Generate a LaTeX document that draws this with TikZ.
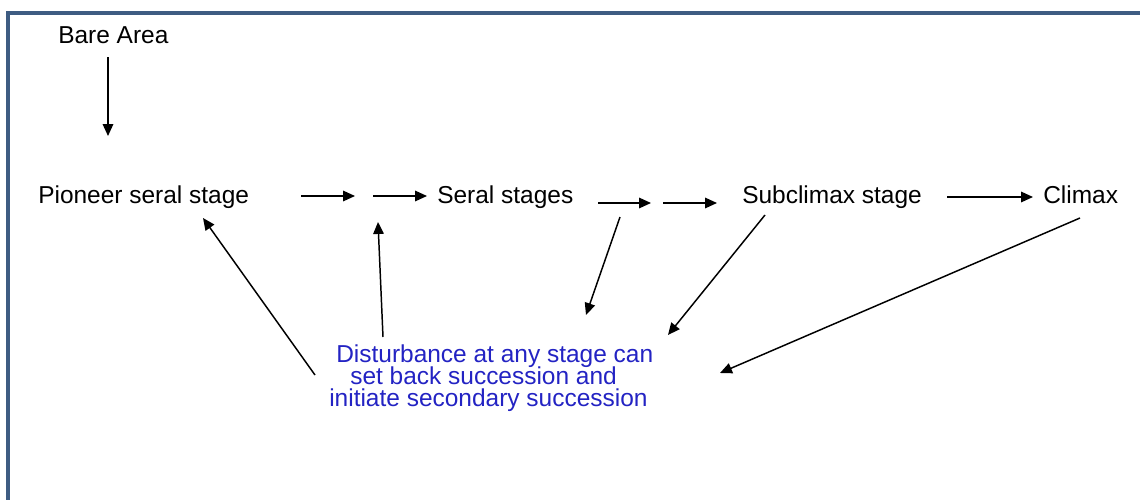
\documentclass[tikz,border=0pt]{standalone}
\usepackage{fontspec}
\setmainfont{Liberation Sans}
\usetikzlibrary{arrows.meta}
\definecolor{framecol}{RGB}{62, 92, 130}
\definecolor{disturbblue}{RGB}{35, 35, 195}
\begin{document}
\begin{tikzpicture}[
    x=0.025cm, y=-0.025cm,
    every node/.style={inner sep=0pt, font=\fontsize{17.4}{16}\selectfont},
    stage/.style={anchor=base west},
    note/.style={anchor=base west, text=disturbblue},
    arrow/.style={-{Triangle[length=8.5pt, width=7.5pt]}, line width=1.05pt},
    frame/.style={draw=framecol, line width=2.2pt}
  ]
    \useasboundingbox (0,0) rectangle (1140,500);
    \draw[frame] (8,502) -- (8,13) -- (1142,13);

    \node[stage] (bare) at (58,43) {Bare Area};
    \node[stage] (pioneer) at (38,203) {Pioneer seral stage};
    \node[stage] (seral) at (437,203) {Seral stages};
    \node[stage] (subclimax) at (742,203) {Subclimax stage};
    \node[stage] (climax) at (1043,203) {Climax};
    \node[note] (dis1) at (336,362) {Disturbance at any stage can};
    \node[note] (dis2) at (350,384) {set back succession and};
    \node[note] (dis3) at (329,406) {initiate secondary succession};

    \coordinate (bareout) at (108,57);
    \coordinate (pioneerin) at (108,136);
    \coordinate (pioneerout) at (301,196);
    \coordinate (gapa) at (355,196);
    \coordinate (gapb) at (373,196);
    \coordinate (seralin) at (427,196);
    \coordinate (seralout) at (598,203);
    \coordinate (gapc) at (651,203);
    \coordinate (gapd) at (663,203);
    \coordinate (subclimaxin) at (717,203);
    \coordinate (subclimaxout) at (947,197);
    \coordinate (climaxin) at (1033,197);

    \draw[arrow] (bareout) -- (pioneerin);
    \draw[arrow] (pioneerout) -- (gapa);
    \draw[arrow] (gapb) -- (seralin);
    \draw[arrow] (seralout) -- (gapc);
    \draw[arrow] (gapd) -- (subclimaxin);
    \draw[arrow] (subclimaxout) -- (climaxin);

    \coordinate (backa) at (315,375);
    \coordinate (pioneerback) at (203,218);
    \coordinate (backb) at (383,337);
    \coordinate (gapback) at (378,222);
    \coordinate (seraldown) at (620,217);
    \coordinate (hitc) at (586,315);
    \coordinate (subclimaxdown) at (765,215);
    \coordinate (hitd) at (668,335);
    \coordinate (climaxdown) at (1080,218);
    \coordinate (hite) at (720,373);

    \draw[arrow] (backa) -- (pioneerback);
    \draw[arrow] (backb) -- (gapback);
    \draw[arrow] (seraldown) -- (hitc);
    \draw[arrow] (subclimaxdown) -- (hitd);
    \draw[arrow] (climaxdown) -- (hite);
  \end{tikzpicture}
\end{document}
